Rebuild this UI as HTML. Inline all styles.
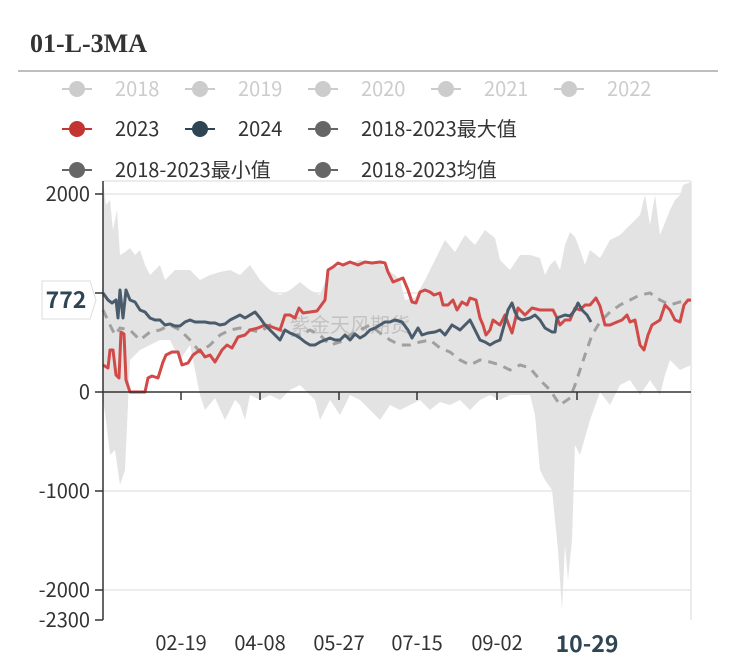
<!DOCTYPE html><html><head><meta charset="utf-8"><style>body{margin:0;background:#fff;}svg{display:block;font-family:"Noto Sans CJK SC",sans-serif}</style></head><body>
<svg width="737" height="665" viewBox="0 0 737 665">
<text x="30" y="52" font-family="Liberation Serif,serif" font-weight="bold" font-size="26" fill="#333">01-L-3MA</text>
<line x1="18" y1="71" x2="718" y2="71" stroke="#aaa" stroke-width="1.5"/>
<g font-size="20">
<g fill="#ccc" stroke="#ccc"><line x1="62" y1="89" x2="92" y2="89" stroke-width="2"/><circle cx="77" cy="89" r="8" stroke="none"/><text x="115" y="96" stroke="none">2018</text>
<line x1="185" y1="89" x2="215" y2="89" stroke-width="2"/><circle cx="200" cy="89" r="8" stroke="none"/><text x="238" y="96" stroke="none">2019</text>
<line x1="308" y1="89" x2="338" y2="89" stroke-width="2"/><circle cx="323" cy="89" r="8" stroke="none"/><text x="361" y="96" stroke="none">2020</text>
<line x1="431" y1="89" x2="461" y2="89" stroke-width="2"/><circle cx="446" cy="89" r="8" stroke="none"/><text x="484" y="96" stroke="none">2021</text>
<line x1="554" y1="89" x2="584" y2="89" stroke-width="2"/><circle cx="569" cy="89" r="8" stroke="none"/><text x="607" y="96" stroke="none">2022</text></g>
<line x1="62" y1="129" x2="92" y2="129" stroke="#c23531" stroke-width="2"/><circle cx="77" cy="129" r="8" fill="#c23531"/><text x="115" y="136" fill="#333">2023</text>
<line x1="185" y1="129" x2="215" y2="129" stroke="#2f4554" stroke-width="2"/><circle cx="200" cy="129" r="8" fill="#2f4554"/><text x="238" y="136" fill="#333">2024</text>
<line x1="308" y1="129" x2="338" y2="129" stroke="#666" stroke-width="2"/><circle cx="323" cy="129" r="8" fill="#666"/><text x="361" y="136" fill="#333">2018-2023最大值</text>
<line x1="62" y1="170" x2="92" y2="170" stroke="#666" stroke-width="2"/><circle cx="77" cy="170" r="8" fill="#666"/><text x="115" y="177" fill="#333">2018-2023最小值</text>
<line x1="308" y1="170" x2="338" y2="170" stroke="#666" stroke-width="2"/><circle cx="323" cy="170" r="8" fill="#666"/><text x="361" y="177" fill="#333">2018-2023均值</text>
</g>
<g stroke="#e6e6e6" stroke-width="1.5"><line x1="103" y1="181" x2="691" y2="181"/><line x1="103" y1="194" x2="691" y2="194"/><line x1="103" y1="293" x2="691" y2="293"/><line x1="103" y1="491" x2="691" y2="491"/><line x1="103" y1="590" x2="691" y2="590"/><line x1="691" y1="181" x2="691" y2="620"/></g>
<polygon fill="#e3e3e3" points="103,180 106,205 110,200 113,230 117,210 120,255 125,252 130,248 135,255 140,250 145,265 150,275 160,265 165,280 175,270 190,270 200,280 210,275 220,272 230,270 240,275 250,265 260,280 270,290 280,295 290,290 300,282 310,290 320,295 330,268 345,265 360,260 370,262 380,262 385,268 395,275 400,280 405,300 415,298 425,280 440,250 445,240 455,252 465,235 475,245 485,230 495,238 500,260 510,270 520,255 530,255 540,258 545,275 550,265 555,260 560,270 565,245 570,232 575,237 580,250 585,265 590,250 600,258 610,240 620,235 630,225 640,215 645,195 650,225 655,195 660,235 670,210 675,200 680,195 683,185 691,182 691,365 680,370 670,360 665,375 660,395 650,380 640,395 630,380 620,385 610,405 600,392 590,420 580,455 575,445 572,540 568,580 565,545 562,610 558,550 552,490 545,480 540,470 535,415 530,395 520,395 510,395 500,400 490,395 480,400 470,410 460,400 450,405 440,402 430,410 420,400 410,405 400,410 390,405 380,420 370,410 360,400 350,395 340,415 330,400 320,420 315,400 300,385 290,390 280,400 270,395 260,400 250,395 245,420 240,405 235,400 225,420 215,398 205,410 200,395 195,370 190,345 180,360 170,340 160,340 150,345 140,350 130,360 125,470 120,485 115,450 110,455 106,420 103,400"/>
<text x="290" y="332" font-size="20" fill="#bbb" opacity="0.8">紫金天风期货</text>
<polyline fill="none" stroke="#a0a0a0" stroke-width="3" stroke-dasharray="9,7" points="103,310 110,325 115,335 120,328 130,330 140,340 150,332 160,330 170,325 180,330 190,340 200,352 210,345 220,335 230,330 240,328 250,330 260,332 270,325 280,330 290,335 300,335 310,330 320,335 330,345 340,342 350,335 360,330 370,325 380,333 390,340 400,345 410,345 420,342 430,340 440,348 450,352 460,360 470,365 480,360 490,362 500,365 510,370 520,365 530,368 540,380 550,390 560,405 570,398 575,385 580,370 585,355 592,335 600,322 610,312 620,305 630,300 640,295 650,293 660,300 670,305 680,302 691,300"/>
<polyline fill="none" stroke="#d04a48" stroke-width="3" stroke-linejoin="round" points="103,365 108,368 110,350 113,350 116,375 119,378 121,332 124,334 126,380 130,392 133,392 145,392 148,378 152,376 158,378 163,362 166,355 172,352 178,352 182,365 188,363 193,355 200,350 205,357 210,355 215,362 222,350 227,345 232,348 238,337 245,335 250,330 258,328 265,325 272,327 280,330 285,315 290,315 295,318 299,308 303,313 310,312 317,311 325,300 328,270 333,267 338,263 343,265 350,262 358,265 365,262 372,263 380,262 385,263 388,272 393,282 398,280 403,278 408,290 412,302 416,303 420,292 425,290 430,292 434,295 440,293 443,305 448,305 453,300 457,310 462,302 467,305 470,298 476,300 480,318 483,325 486,335 490,330 493,320 497,323 500,325 505,315 512,333 518,308 525,315 532,308 540,310 545,310 553,310 557,318 560,325 565,320 570,320 575,308 580,310 585,305 590,305 596,298 600,306 605,325 610,325 617,322 622,320 627,315 630,322 635,320 640,345 644,350 648,335 652,325 660,320 665,305 670,310 675,320 680,322 684,305 688,300 691,300"/>
<polyline fill="none" stroke="#4a5c6c" stroke-width="3" stroke-linejoin="round" points="103,293 108,300 112,303 116,300 118,318 120,290 123,318 126,290 130,300 135,302 140,310 145,312 150,318 155,320 160,320 165,325 170,324 175,326 180,326 185,322 190,320 195,322 200,322 205,322 210,323 215,323 220,325 225,324 230,320 240,315 245,318 255,312 260,318 265,325 270,330 275,335 280,340 285,330 290,333 295,335 300,338 305,342 310,345 315,345 320,342 325,340 330,338 335,340 340,340 345,335 350,340 355,334 360,338 365,335 370,330 375,328 380,325 385,322 390,322 395,320 402,322 408,330 412,338 418,328 422,335 428,333 435,332 440,330 445,335 452,325 457,328 460,330 465,325 470,320 475,330 480,340 485,342 490,345 495,342 500,340 505,322 508,310 512,303 515,312 518,318 522,320 530,318 535,315 540,320 545,328 552,332 555,332 557,318 565,315 570,316 575,310 578,303 582,310 587,315 591,322"/>
<g stroke="#333" stroke-width="1.5"><line x1="103" y1="181" x2="103" y2="620"/><line x1="103" y1="392" x2="691" y2="392"/>
<line x1="95" y1="194" x2="103" y2="194"/><line x1="95" y1="293" x2="103" y2="293"/><line x1="95" y1="392" x2="103" y2="392"/><line x1="95" y1="491" x2="103" y2="491"/><line x1="95" y1="590" x2="103" y2="590"/><line x1="95" y1="620" x2="103" y2="620"/>
<line x1="181" y1="392" x2="181" y2="400"/><line x1="260" y1="392" x2="260" y2="400"/><line x1="339" y1="392" x2="339" y2="400"/><line x1="417" y1="392" x2="417" y2="400"/><line x1="497" y1="392" x2="497" y2="400"/><line x1="577" y1="392" x2="577" y2="400"/></g>
<g font-size="20" fill="#333" text-anchor="end"><text x="90" y="201">2000</text><text x="90" y="300">1000</text><text x="90" y="399">0</text><text x="90" y="498">-1000</text><text x="90" y="597">-2000</text><text x="90" y="627">-2300</text></g>
<g font-size="20" fill="#333" text-anchor="middle"><text x="181" y="650">02-19</text><text x="260" y="650">04-08</text><text x="339" y="650">05-27</text><text x="417" y="650">07-15</text><text x="497" y="650">09-02</text><text x="587" y="652" font-weight="bold" font-size="23" fill="#2f4554">10-29</text></g>
<path d="M42,281 H90 L96,300 L90,319 H42 Z" fill="#fff" stroke="#ddd" stroke-width="1"/>
<text x="66" y="308" font-size="23" font-weight="bold" fill="#2f4554" text-anchor="middle">772</text>
</svg></body></html>
